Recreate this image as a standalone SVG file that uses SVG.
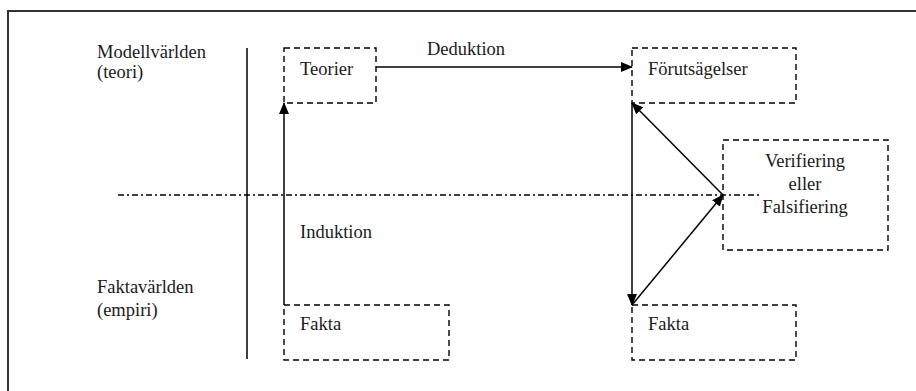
<svg xmlns="http://www.w3.org/2000/svg" width="916" height="391" viewBox="0 0 916 391">
  <defs>
    <marker id="arrow" markerWidth="12" markerHeight="10" refX="11" refY="5" orient="auto" markerUnits="userSpaceOnUse">
      <path d="M0,0 L12,5 L0,10 Z" fill="#000"/>
    </marker>
    <style>
      .box { fill: none; stroke: #000; stroke-width: 1.4; stroke-dasharray: 6 4; }
      .conn { fill: none; stroke: #000; stroke-width: 1.5; marker-end: url(#arrow); }
      .frame { fill: none; stroke: #333; stroke-width: 2; }
      .divider { stroke: #000; stroke-width: 1.5; }
      .midline { stroke: #000; stroke-width: 1.5; stroke-dasharray: 6 3 2 3; }
    </style>
  </defs>
  <rect width="916" height="391" fill="#fff"/>

  <!-- outer frame (top and left edges) -->
  <path class="frame" d="M8,391 V11 H916"/>

  <!-- level labels and separators -->
  <g id="labels" fill="#1a1a1a">
    <text x="97" y="58" font-family="Liberation Serif" font-size="18.5">Modellvärlden</text>
    <text x="97" y="78" font-family="Liberation Serif" font-size="18.5">(teori)</text>
    <text x="97" y="293" font-family="Liberation Serif" font-size="18.5">Faktavärlden</text>
    <text x="97" y="316" font-family="Liberation Serif" font-size="18.5">(empiri)</text>
  </g>
  <line class="divider" x1="247" y1="48" x2="247" y2="359"/>
  <line class="midline" x1="118" y1="195" x2="762" y2="195"/>

  <!-- nodes -->
  <g id="teorier" fill="#1a1a1a">
    <rect class="box" x="284" y="48" width="92" height="55"/>
    <text x="300" y="75" font-family="Liberation Serif" font-size="18.5">Teorier</text>
  </g>
  <g id="forutsagelser" fill="#1a1a1a">
    <rect class="box" x="632" y="48" width="164" height="55"/>
    <text x="648" y="75" font-family="Liberation Serif" font-size="18.5">Förutsägelser</text>
  </g>
  <g id="verifiering" fill="#1a1a1a">
    <rect class="box" x="723" y="140" width="165" height="110"/>
    <text x="805" y="167" text-anchor="middle" font-family="Liberation Serif" font-size="18.5">Verifiering</text>
    <text x="805" y="190" text-anchor="middle" font-family="Liberation Serif" font-size="18.5">eller</text>
    <text x="805" y="213" text-anchor="middle" font-family="Liberation Serif" font-size="18.5">Falsifiering</text>
  </g>
  <g id="fakta-vanster" fill="#1a1a1a">
    <rect class="box" x="284" y="305" width="165" height="55"/>
    <text x="300" y="330" font-family="Liberation Serif" font-size="18.5">Fakta</text>
  </g>
  <g id="fakta-hoger" fill="#1a1a1a">
    <rect class="box" x="632" y="305" width="164" height="55"/>
    <text x="648" y="330" font-family="Liberation Serif" font-size="18.5">Fakta</text>
  </g>

  <!-- connectors -->
  <g id="connectors" fill="#1a1a1a">
    <line class="conn" x1="376" y1="67" x2="632" y2="67"/>
    <line class="conn" x1="284" y1="305" x2="284" y2="103"/>
    <line class="conn" x1="632" y1="103" x2="632" y2="305"/>
    <line class="conn" x1="632" y1="305" x2="723" y2="195"/>
    <line class="conn" x1="723" y1="195" x2="632" y2="103"/>
    <text x="427" y="55" font-family="Liberation Serif" font-size="18.5">Deduktion</text>
    <text x="300" y="238" font-family="Liberation Serif" font-size="18.5">Induktion</text>
  </g>
</svg>
